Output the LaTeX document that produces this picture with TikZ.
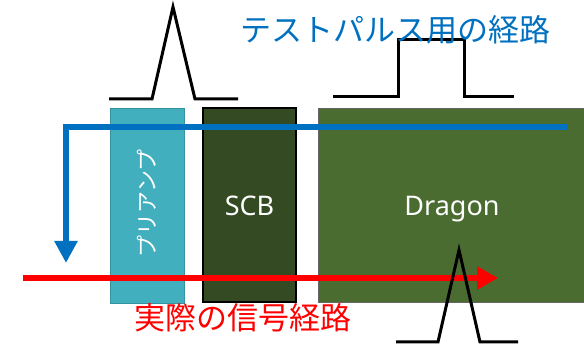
\documentclass[tikz,border=0pt]{standalone}
\usepackage{fontspec}
\setmainfont{Noto Sans}
\newfontfamily\jpfont{Noto Sans CJK JP}
\usetikzlibrary{arrows.meta}
\definecolor{tealbox}{HTML}{42AFBF}
\definecolor{tealedge}{HTML}{3592A0}
\definecolor{scbfill}{HTML}{344A23}
\definecolor{dragfill}{HTML}{4A6C31}
\definecolor{pathblue}{HTML}{0070C0}
\definecolor{pathred}{HTML}{FF0000}
\tikzset{
  blockbox/.style={rectangle, inner sep=0pt, minimum width=#1},
  pulse/.style={line width=3pt, black, line join=miter},
  bluepath/.style={line width=6.5pt, pathblue, line join=miter, -{Triangle[length=22pt,width=22pt]}},
  redpath/.style={line width=6.5pt, pathred, -{Triangle[length=21pt,width=22pt]}},
  blocklabel/.style={text=white, font=\fontsize{27}{30}\selectfont},
}
\begin{document}
\begin{tikzpicture}[x=1pt,y=-1pt]
\useasboundingbox (0,0) rectangle (584,347);
% blocks
\node[blockbox=74pt, minimum height=195pt, fill=tealbox, draw=tealedge, line width=0.8pt] (preamp) at (147,205.5) {};
\node[blockbox=93pt, minimum height=194pt, fill=scbfill, draw=black, line width=1.2pt] (scb) at (249.5,205) {};
\node[blockbox=268pt, minimum height=194pt, fill=dragfill, draw=black!60, line width=0.8pt] (dragon) at (452,205) {};
\node[blocklabel, rotate=90, font=\jpfont\fontsize{22}{24}\selectfont] (preamplabel) at (147,203.5) {プリアンプ};
\node[blocklabel, anchor=base] (scblabel) at (249.5,215.5) {SCB};
\node[blocklabel, anchor=base] (draglabel) at (452,215.5) {Dragon};
% test pulse path
\coordinate (bs) at (567,127);
\coordinate (bc) at (66,127);
\coordinate (be) at (66,263);
\draw[bluepath] (bs) -- (bc) -- (be);
% real signal path
\coordinate (rs) at (23,278);
\coordinate (re) at (498,278);
\draw[redpath] (rs) -- (re);
% pulses
\draw[pulse] (109,99) -- (152,99) -- (173,7) -- (195,99) -- (238,99);
\draw[pulse] (333,97) -- (398,97) -- (398,40) -- (464,40) -- (464,97) -- (514,97);
\draw[pulse] (396,342) -- (438,342) -- (459,250) -- (480,342) -- (518,342);
% labels
\node[text=pathblue, font=\jpfont\fontsize{31}{34}\selectfont, inner sep=0pt] (testlabel) at (395,30) {テストパルス用の経路};
\node[text=pathred, font=\jpfont\fontsize{31}{34}\selectfont, inner sep=0pt] (reallabel) at (242.5,317.5) {実際の信号経路};
\end{tikzpicture}
\end{document}
